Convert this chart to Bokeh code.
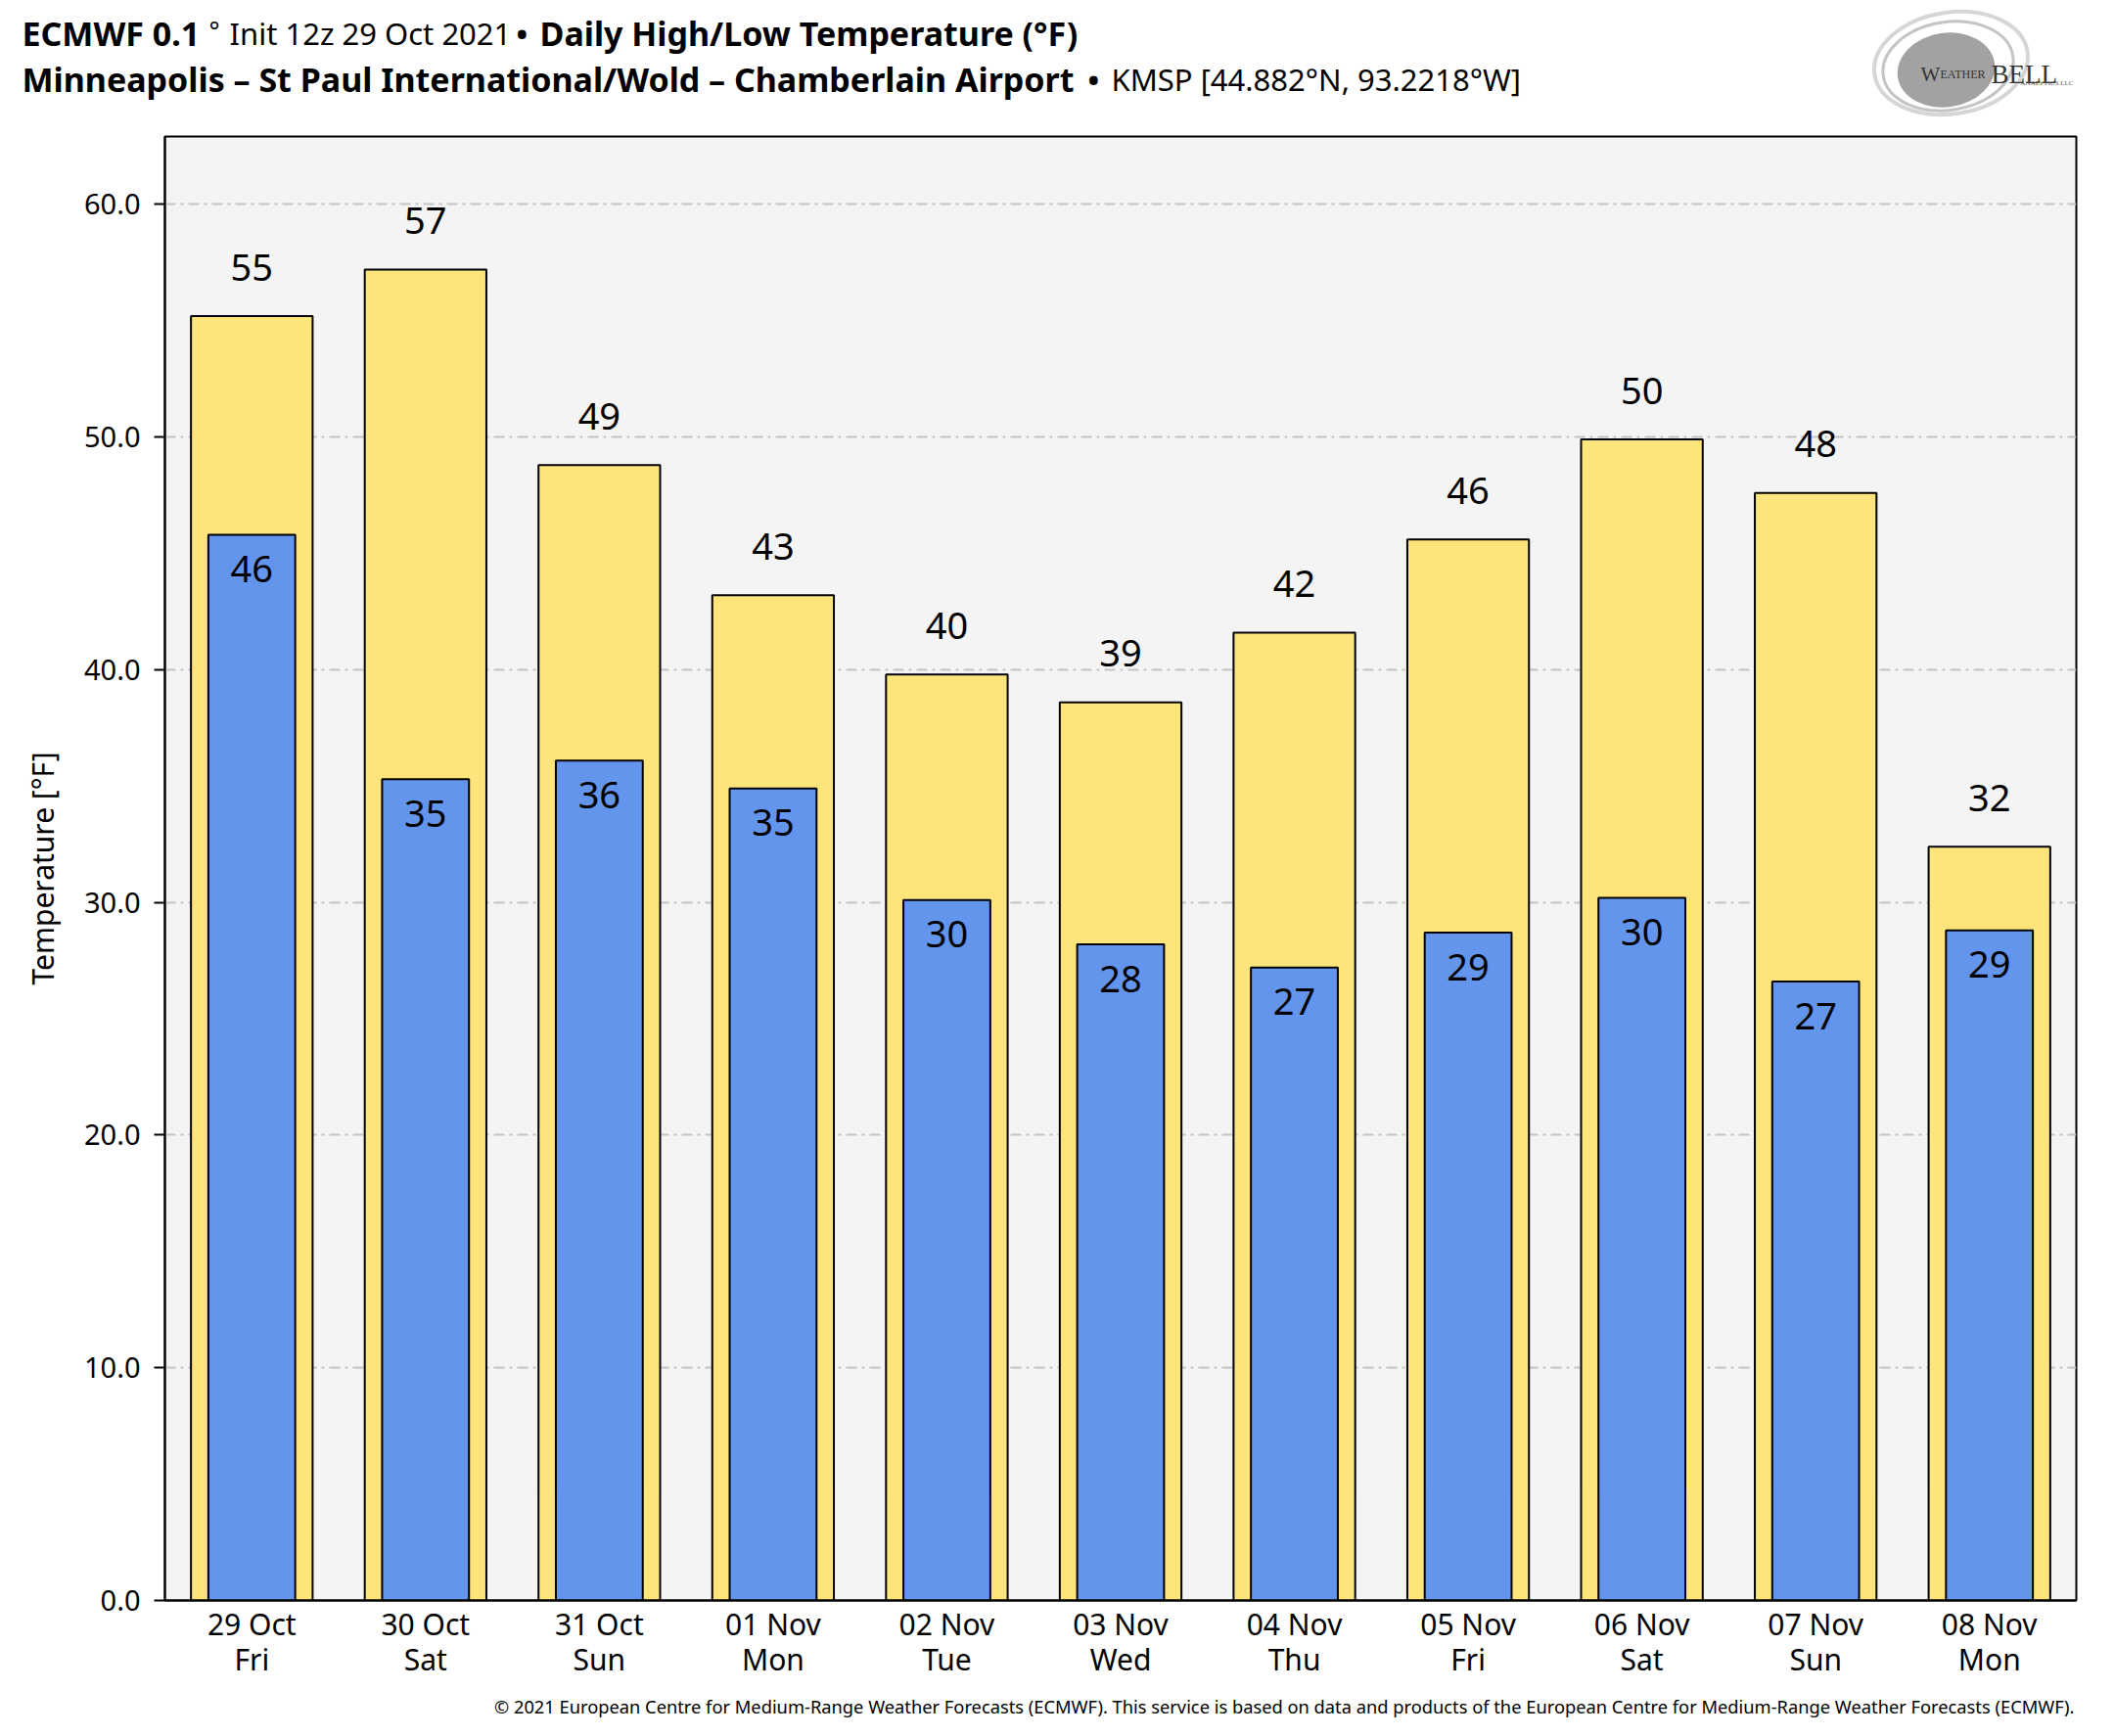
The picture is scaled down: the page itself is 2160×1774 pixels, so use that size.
import numpy as np
from bokeh.plotting import figure
from bokeh.layouts import column
from bokeh.models import Range1d, FixedTicker, PrintfTickFormatter
from bokeh.core.properties import value
from bokeh.embed import file_html
from bokeh.resources import INLINE

# ---- data ----
dates = ["29 Oct", "30 Oct", "31 Oct", "01 Nov", "02 Nov", "03 Nov",
         "04 Nov", "05 Nov", "06 Nov", "07 Nov", "08 Nov"]
weekdays = ["Fri", "Sat", "Sun", "Mon", "Tue", "Wed", "Thu", "Fri", "Sat", "Sun", "Mon"]
high_f = [55.2, 57.2, 48.8, 43.2, 39.8, 38.6, 41.6, 45.6, 49.9, 47.6, 32.4]
low_f = [45.8, 35.3, 36.1, 34.9, 30.1, 28.2, 27.2, 28.7, 30.2, 26.6, 28.8]
y_ticks = [0, 10, 20, 30, 40, 50, 60]

FONT = "Noto Sans"
idx = list(range(len(dates)))
high_lbl = [str(int(np.floor(v + 0.5))) for v in high_f]
low_lbl = [str(int(np.floor(v + 0.5))) for v in low_f]

W = 2152
FL, FR = 168, 2121          # main frame left / right (page px)
HEAD_H = 137
MAIN_H = 1588
FOOT_H = 41


def blank_fig(h):
    f = figure(width=W, height=h, output_backend="svg", toolbar_location=None,
               x_axis_type=None, y_axis_type=None,
               min_border_left=0, min_border_right=0,
               min_border_top=0, min_border_bottom=0)
    unaligned = True
    try:
        f.frame_align = False
    except Exception:
        unaligned = False
    if unaligned:
        f.x_range = Range1d(0, W)
    else:
        f.x_range = Range1d(FL, FR)
        f.min_border_left = FL
        f.min_border_right = W - FR
    f.y_range = Range1d(h, 0)
    f.outline_line_color = None
    f.background_fill_color = "white"
    f.border_fill_color = "white"
    f.xgrid.grid_line_color = None
    f.ygrid.grid_line_color = None
    return f


def txt(f, x, y, s, size, bold=False, align="left", color="black", font=FONT,
        baseline="middle"):
    f.text(x=[x], y=[y], text=[s], text_align=align, text_baseline=baseline,
           text_font=value(font), text_font_size=size,
           text_font_style="bold" if bold else "normal", text_color=color)


# ---- header ----
head = blank_fig(HEAD_H)
txt(head, 22, 33, "ECMWF 0.1", "34px", bold=True)
txt(head, 213, 30, "°", "26px")
txt(head, 234, 33, "Init 12z 29 Oct 2021", "31px")
txt(head, 527, 33, "•", "31px", bold=True)
txt(head, 551, 33, "Daily High/Low Temperature (°F)", "34px", bold=True)
txt(head, 22, 80, "Minneapolis – St Paul International/Wold – Chamberlain Airport", "34px", bold=True)
txt(head, 1111, 80, "•", "31px", bold=True)
txt(head, 1135, 80, "KMSP [44.882°N, 93.2218°W]", "31px")

# logo (approximation of the WeatherBELL mark)
head.ellipse(x=[1993], y=[64], width=[158], height=[104], angle=[0.15],
             fill_color=None, line_color="#d6d6d6", line_width=4)
head.ellipse(x=[1990], y=[67], width=[134], height=[90], angle=[0.15],
             fill_color=None, line_color="#c4c4c4", line_width=3)
head.ellipse(x=[1988], y=[71], width=[100], height=[76], angle=[0.15],
             fill_color="#a2a2a2", line_color=None)
txt(head, 1962, 75, "W", "21px", color="#333333", font="Liberation Serif", baseline="alphabetic")
txt(head, 1982, 75, "EATHER", "12px", color="#333333", font="Liberation Serif", baseline="alphabetic")
txt(head, 2034, 75, "BELL", "27px", color="#333333", font="Liberation Serif", baseline="alphabetic")
txt(head, 2118, 84, "ANALYTICS LLC", "7px", align="right", color="#555555", font="Liberation Serif")

# ---- main chart ----
p = figure(width=W, height=MAIN_H, output_backend="svg", toolbar_location=None,
           x_range=Range1d(-0.5, len(dates) - 0.5),
           y_range=Range1d(0, max(high_f) * 1.1),
           min_border_left=FL, min_border_right=W - FR,
           min_border_top=2, min_border_bottom=90)
try:
    p.frame_align = False
except Exception:
    pass

p.background_fill_color = "#f4f4f4"
p.border_fill_color = "white"
p.outline_line_color = "black"
p.outline_line_width = 2

p.xgrid.grid_line_color = None
p.ygrid.ticker = FixedTicker(ticks=y_ticks)
p.ygrid.grid_line_color = "#c4c4c4"
p.ygrid.grid_line_width = 2
p.ygrid.grid_line_dash = "11 5 3 5"

p.yaxis.ticker = FixedTicker(ticks=y_ticks)
p.yaxis.formatter = PrintfTickFormatter(format="%.1f")
p.yaxis.axis_label = "Temperature [°F]"
p.yaxis.axis_label_text_font = FONT
p.yaxis.axis_label_text_font_size = "30px"
p.yaxis.axis_label_text_font_style = "normal"
p.yaxis.axis_label_text_color = "black"
p.yaxis.axis_label_standoff = 19
p.yaxis.major_label_text_font = FONT
p.yaxis.major_label_text_font_size = "29px"
p.yaxis.major_label_text_color = "black"
p.yaxis.major_label_standoff = 14
p.yaxis.major_tick_out = 11
p.yaxis.major_tick_in = 0
p.yaxis.major_tick_line_width = 2
p.yaxis.minor_tick_line_color = None
p.yaxis.axis_line_width = 2

p.xaxis.ticker = FixedTicker(ticks=idx)
p.xaxis.major_label_overrides = {i: f"{d}\n{w}" for i, d, w in zip(idx, dates, weekdays)}
p.xaxis.major_label_text_font = FONT
p.xaxis.major_label_text_font_size = "30px"
p.xaxis.major_label_text_color = "black"
p.xaxis.major_label_text_line_height = 0.9
p.xaxis.major_label_standoff = -3
p.xaxis.major_tick_line_color = None
p.xaxis.minor_tick_line_color = None
p.xaxis.axis_line_width = 2

p.vbar(x=idx, top=high_f, bottom=0, width=0.7, fill_color="#FDE47B",
       line_color="black", line_width=2)
p.vbar(x=idx, top=low_f, bottom=0, width=0.5, fill_color="#6495ED",
       line_color="black", line_width=2)

p.text(x=idx, y=high_f, text=high_lbl, text_align="center", text_baseline="middle",
       y_offset=-50, text_font=value(FONT), text_font_size="38px", text_color="black")
p.text(x=idx, y=low_f, text=low_lbl, text_align="center", text_baseline="middle",
       y_offset=35, text_font=value(FONT), text_font_size="38px", text_color="black")

# ---- footer ----
foot = blank_fig(FOOT_H)
txt(foot, 2119, 18,
    "© 2021 European Centre for Medium-Range Weather Forecasts (ECMWF). This service is based "
    "on data and products of the European Centre for Medium-Range Weather Forecasts (ECMWF).",
    "18.3px", align="right")

layout = column(head, p, foot, spacing=0)
open("out.html", "w").write(file_html(layout, INLINE))
